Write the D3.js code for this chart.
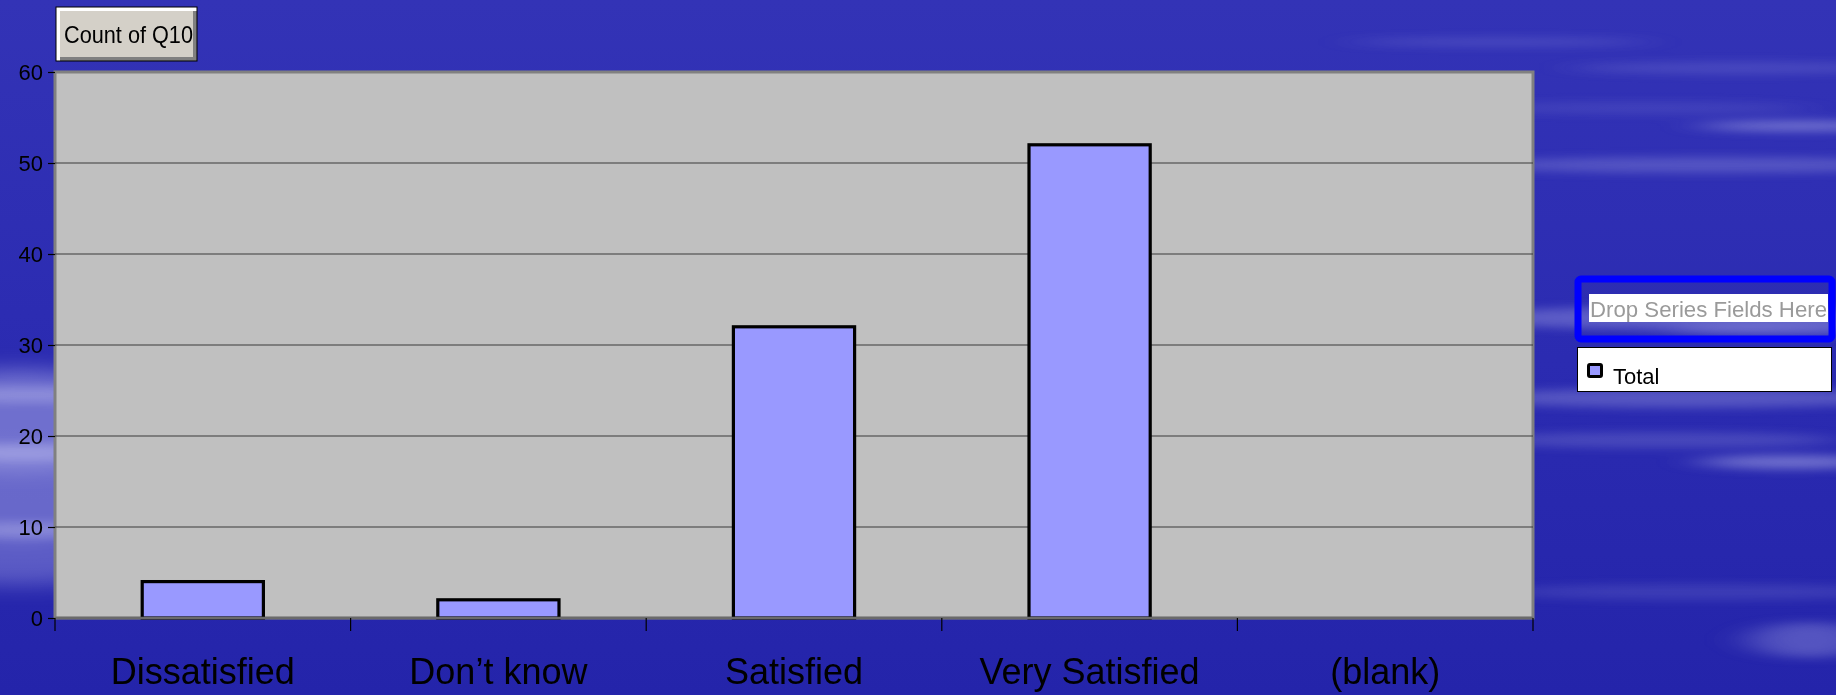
<!DOCTYPE html>
<html>
<head>
<meta charset="utf-8">
<script src="https://cdn.jsdelivr.net/npm/d3@7"></script>
<style>
  html, body { margin: 0; padding: 0; background: #2b2bb0; }
  svg { display: block; }
  text { font-family: "Liberation Sans", Arial, sans-serif; }
</style>
</head>
<body>
<svg id="chart" width="1836" height="695"></svg>
<script>
// Pivot chart data: Count of Q10 by response
const categories = ["Dissatisfied", "Don\u2019t know", "Satisfied", "Very Satisfied", "(blank)"];
const counts = [4, 2, 32, 52, 0];
const yTicks = [0, 10, 20, 30, 40, 50, 60];
const seriesName = "Total";
const fieldButton = "Count of Q10";
const dropHint = "Drop Series Fields Here";

const W = 1836, H = 695;
const plot = { left: 55, top: 72, right: 1533, bottom: 618 };

const svg = d3.select("#chart");
const defs = svg.append("defs");

// Slide background: deep blue with soft pale streaks
const bg = defs.append("linearGradient").attr("id", "bgGrad")
  .attr("x1", 0).attr("y1", 0).attr("x2", 0).attr("y2", 1);
bg.append("stop").attr("offset", "0%").attr("stop-color", "#3333b6");
bg.append("stop").attr("offset", "45%").attr("stop-color", "#2c2cb2");
bg.append("stop").attr("offset", "100%").attr("stop-color", "#2424aa");
svg.append("rect").attr("width", W).attr("height", H).attr("fill", "url(#bgGrad)");

const soft = defs.append("filter").attr("id", "soft")
  .attr("filterUnits", "userSpaceOnUse")
  .attr("x", -200).attr("y", -200).attr("width", W + 400).attr("height", H + 400);
soft.append("feGaussianBlur").attr("stdDeviation", "22 5");

const haze = defs.append("filter").attr("id", "haze")
  .attr("filterUnits", "userSpaceOnUse")
  .attr("x", -200).attr("y", -200).attr("width", W + 400).attr("height", H + 400);
haze.append("feGaussianBlur").attr("stdDeviation", "14 10");

// Broad lavender haze on the left edge
const leftHaze = [
  // [cx, cy, rx, ry, opacity]
  [20, 420, 140, 50, 0.55], [20, 495, 140, 45, 0.5], [20, 560, 120, 25, 0.4]
];
svg.append("g").attr("filter", "url(#haze)")
  .selectAll("ellipse").data(leftHaze).join("ellipse")
  .attr("cx", d => d[0]).attr("cy", d => d[1])
  .attr("rx", d => d[2]).attr("ry", d => d[3])
  .attr("fill", "#a8a8e8").attr("opacity", d => d[4]);

const streaks = [
  [30, 395, 110, 8, 0.35], [30, 452, 120, 8, 0.4], [30, 530, 120, 8, 0.35],
  [1500, 42, 150, 4, 0.18], [1740, 68, 170, 6, 0.16], [1800, 126, 100, 5, 0.45],
  [1710, 165, 230, 8, 0.25], [1640, 108, 170, 6, 0.12],
  [1700, 318, 230, 12, 0.32], [1780, 330, 110, 6, 0.3],
  [1690, 398, 220, 10, 0.28], [1790, 462, 90, 7, 0.45], [1660, 440, 180, 8, 0.2],
  [1810, 640, 60, 18, 0.3], [1700, 592, 200, 8, 0.14]
];
svg.append("g").attr("filter", "url(#soft)")
  .selectAll("ellipse").data(streaks).join("ellipse")
  .attr("cx", d => d[0]).attr("cy", d => d[1])
  .attr("rx", d => d[2]).attr("ry", d => d[3])
  .attr("fill", "#c4c4f2").attr("opacity", d => d[4]);

// Scales
const x = d3.scaleBand().domain(categories).range([plot.left, plot.right]).paddingInner(0).paddingOuter(0);
const y = d3.scaleLinear().domain([0, 60]).range([plot.bottom, plot.top]);
const barW = x.bandwidth() * 0.41;

// Plot area
svg.append("rect")
  .attr("x", plot.left).attr("y", plot.top)
  .attr("width", plot.right - plot.left).attr("height", plot.bottom - plot.top)
  .attr("fill", "#c0c0c0").attr("stroke", "#808080").attr("stroke-width", 3);

// Gridlines
svg.append("g").selectAll("line").data(yTicks.filter(t => t > 0 && t < 60)).join("line")
  .attr("x1", plot.left).attr("x2", plot.right)
  .attr("y1", d => y(d)).attr("y2", d => y(d))
  .attr("stroke", "#3a3a3a").attr("stroke-width", 1);

// Y axis
const yAxis = svg.append("g").attr("transform", `translate(${plot.left},0)`)
  .call(d3.axisLeft(y).tickValues(yTicks).tickSize(7).tickPadding(5));
yAxis.attr("font-size", 22).attr("font-family", "'Liberation Sans', Arial, sans-serif");
yAxis.select(".domain").remove();
yAxis.selectAll(".tick line").attr("stroke", "#000").attr("stroke-width", 1.2);
yAxis.selectAll(".tick text").attr("fill", "#000");

// Bars
svg.append("g").selectAll("rect").data(categories.map((c, i) => ({ c, v: counts[i] })).filter(d => d.v > 0))
  .join("rect")
  .attr("x", d => x(d.c) + (x.bandwidth() - barW) / 2)
  .attr("y", d => y(d.v))
  .attr("width", barW)
  .attr("height", d => y(0) - y(d.v))
  .attr("fill", "#9999ff").attr("stroke", "#000").attr("stroke-width", 3.2);

// Category axis line and tick marks at band edges
svg.append("line").attr("x1", plot.left).attr("x2", plot.right)
  .attr("y1", y(0)).attr("y2", y(0)).attr("stroke", "#6a6a6a").attr("stroke-width", 2.5);
const edges = categories.map(c => x(c)).concat([plot.right]);
svg.append("g").selectAll("line").data(edges).join("line")
  .attr("x1", d => d).attr("x2", d => d)
  .attr("y1", y(0)).attr("y2", y(0) + 13)
  .attr("stroke", "#000").attr("stroke-width", 1.2);

svg.append("g").selectAll("text").data(categories).join("text")
  .attr("x", d => x(d) + x.bandwidth() / 2)
  .attr("y", 684)
  .attr("text-anchor", "middle")
  .attr("font-size", 36)
  .attr("fill", "#000")
  .text(d => d);

// Field button
const btn = svg.append("g");
btn.append("rect").attr("x", 56).attr("y", 7).attr("width", 141).attr("height", 54).attr("fill", "#ffffff");
btn.append("rect").attr("x", 60).attr("y", 11).attr("width", 137).attr("height", 50).attr("fill", "#808080");
btn.append("rect").attr("x", 60).attr("y", 11).attr("width", 133).attr("height", 46).attr("fill", "#d4d0c8");
btn.append("rect").attr("x", 56).attr("y", 7).attr("width", 141).attr("height", 54)
  .attr("fill", "none").attr("stroke", "#000").attr("stroke-width", 1);
btn.append("text").attr("x", 64).attr("y", 43).attr("font-size", 24).attr("fill", "#000")
  .attr("textLength", 129).attr("lengthAdjust", "spacingAndGlyphs").text(fieldButton);

// Series drop zone
svg.append("rect").attr("x", 1578).attr("y", 279).attr("width", 254).attr("height", 60)
  .attr("rx", 3).attr("fill", "none").attr("stroke", "#0000ff").attr("stroke-width", 7);
svg.append("rect").attr("x", 1589).attr("y", 294).attr("width", 239).attr("height", 28).attr("fill", "#ffffff");
svg.append("text").attr("x", 1590).attr("y", 317).attr("font-size", 22).attr("fill", "#9a9a9a")
  .attr("textLength", 237).attr("lengthAdjust", "spacingAndGlyphs").text(dropHint);

// Legend
svg.append("rect").attr("x", 1577.5).attr("y", 347.5).attr("width", 254).attr("height", 44)
  .attr("fill", "#ffffff").attr("stroke", "#000").attr("stroke-width", 1);
svg.append("rect").attr("x", 1588.5).attr("y", 364.5).attr("width", 13).attr("height", 12)
  .attr("fill", "#9999ff").attr("stroke", "#000").attr("stroke-width", 3).attr("rx", 1.5);
svg.append("text").attr("x", 1613).attr("y", 384).attr("font-size", 22).attr("fill", "#000").text(seriesName);
</script>
</body>
</html>
